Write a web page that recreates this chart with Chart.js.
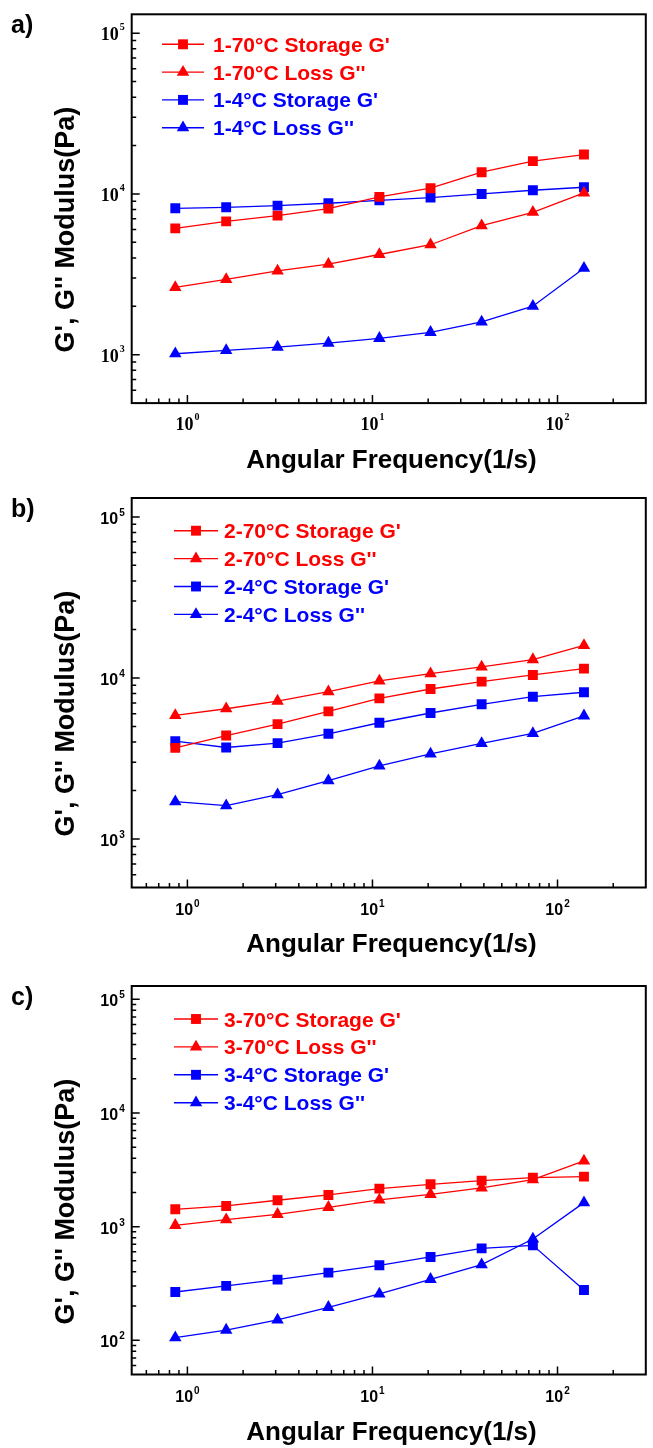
<!DOCTYPE html>
<html>
<head>
<meta charset="utf-8">
<script src="https://cdn.jsdelivr.net/npm/chart.js@4.4.1/dist/chart.umd.min.js"></script>
<style>
  html, body { margin: 0; padding: 0; background: #fff; }
  body { width: 653px; height: 1448px; position: relative; overflow: hidden; font-family: "Liberation Sans", Arial, sans-serif; }
  .cv { position: absolute; left: 0; }
  .letter { position: absolute; font-weight: bold; font-size: 25px; line-height: 25px; color: #000; white-space: nowrap; }
  .xt { position: absolute; left: 131px; width: 521px; text-align: center; font-weight: bold; font-size: 26px; line-height: 26px; color: #000; white-space: nowrap; }
  .yt { position: absolute; width: 400px; height: 27px; text-align: center; font-weight: bold; font-size: 27px; line-height: 27px; color: #000; white-space: nowrap; transform: rotate(-90deg); }
</style>
</head>
<body>
<canvas id="ca" class="cv" width="653" height="480" style="top:0px"></canvas>
<canvas id="cb" class="cv" width="653" height="490" style="top:480px"></canvas>
<canvas id="cc" class="cv" width="653" height="478" style="top:970px"></canvas>

<div class="letter" style="left:11px;top:12px">a)</div>
<div class="letter" style="left:11px;top:496px">b)</div>
<div class="letter" style="left:11px;top:984px">c)</div>

<div class="xt" style="top:446px">Angular Frequency(1/s)</div>
<div class="xt" style="top:930px">Angular Frequency(1/s)</div>
<div class="xt" style="top:1418px">Angular Frequency(1/s)</div>

<div class="yt" style="left:-135px;top:216px">G', G'' Modulus(Pa)</div>
<div class="yt" style="left:-135px;top:700px">G', G'' Modulus(Pa)</div>
<div class="yt" style="left:-135px;top:1188px">G', G'' Modulus(Pa)</div>

<script>
// ---------------- data ----------------
const freq = [0.86, 1.62, 3.07, 5.78, 10.9, 20.6, 38.9, 73.6, 139];

const namesA = ["1-70°C Storage G'", "1-70°C Loss G''", "1-4°C Storage G'", "1-4°C Loss G''"];
const a70Storage = [6110, 6750, 7330, 8100, 9580, 10850, 13650, 15990, 17580];
const a70Loss    = [2620, 2940, 3320, 3660, 4200, 4830, 6350, 7690, 10150];
const a4Storage  = [8140, 8260, 8460, 8750, 9130, 9490, 10000, 10540, 11000];
const a4Loss     = [1014, 1064, 1116, 1182, 1265, 1378, 1598, 2002, 3450];

const namesB = ["2-70°C Storage G'", "2-70°C Loss G''", "2-4°C Storage G'", "2-4°C Loss G''"];
const b70Storage = [3680, 4390, 5170, 6200, 7470, 8540, 9490, 10440, 11430];
const b70Loss    = [5850, 6440, 7190, 8220, 9580, 10640, 11710, 13010, 15910];
const b4Storage  = [4050, 3700, 3940, 4500, 5270, 6060, 6860, 7650, 8150];
const b4Loss     = [1705, 1610, 1884, 2304, 2844, 3379, 3919, 4521, 5822];

const namesC = ["3-70°C Storage G'", "3-70°C Loss G''", "3-4°C Storage G'", "3-4°C Loss G''"];
const c70Storage = [1421, 1520, 1706, 1900, 2159, 2357, 2540, 2700, 2754];
const c70Loss    = [1027, 1152, 1284, 1479, 1717, 1925, 2190, 2591, 3782];
const c4Storage  = [266, 301, 342, 394, 457, 541, 644, 685, 277];
const c4Loss     = [105.6, 123, 151, 195, 256, 344, 463, 779, 1626];

// tick labels: exponents of the decade labels
const xExponents  = [0, 1, 2];
const yExponentsAB = [3, 4, 5];
const yExponentsC  = [2, 3, 4, 5];

// ---------------- styling ----------------
const RED = '#ff0000', BLUE = '#0000ff';
const seriesStyle = [
  {color: RED,  pointStyle: 'rect',     radius: 7},
  {color: RED,  pointStyle: 'triangle', radius: 7.2},
  {color: BLUE, pointStyle: 'rect',     radius: 7},
  {color: BLUE, pointStyle: 'triangle', radius: 7.2}
];

const panels = [
  {canvas: 'ca', pad: {left: 131.7, right: 1, top: 14.3, bottom: 76.9}, yMin: 500, yMax: 131000,
   yExps: yExponentsAB, serif: true, series: [a70Storage, a70Loss, a4Storage, a4Loss], names: namesA,
   legend: {x0: 162, x1: 204, tx: 213, y0: 44.3, dy: 27.8}},
  {canvas: 'cb', pad: {left: 131.7, right: 1, top: 18, bottom: 82.5}, yMin: 500, yMax: 131000,
   yExps: yExponentsAB, serif: false, series: [b70Storage, b70Loss, b4Storage, b4Loss], names: namesB,
   legend: {x0: 174, x1: 218, tx: 224, y0: 50.7, dy: 27.9}},
  {canvas: 'cc', pad: {left: 131.7, right: 1, top: 16, bottom: 73.5}, yMin: 50, yMax: 131000,
   yExps: yExponentsC, serif: false, series: [c70Storage, c70Loss, c4Storage, c4Loss], names: namesC,
   legend: {x0: 174, x1: 218, tx: 224, y0: 49, dy: 27.9}}
];

function drawMarker(ctx, style, x, y) {
  ctx.fillStyle = style.color;
  ctx.strokeStyle = style.color;
  Chart.helpers.drawPoint(ctx, {pointStyle: style.pointStyle, radius: style.radius, rotation: 0, borderWidth: 0}, x, y);
}

function supLabel(ctx, x, y, exp, align, baseFont, supFont, raise) {
  ctx.font = baseFont; const w1 = ctx.measureText('10').width;
  ctx.font = supFont; const w2 = ctx.measureText(String(exp)).width;
  const total = w1 + 1 + w2;
  const x0 = align === 'center' ? x - total / 2 : x - total;
  ctx.textAlign = 'left'; ctx.textBaseline = 'alphabetic'; ctx.fillStyle = '#000';
  ctx.font = baseFont; ctx.fillText('10', x0, y);
  ctx.font = supFont; ctx.fillText(String(exp), x0 + w1 + 1, y - raise);
}

function logTicks(min, max) {
  const out = [];
  for (let n = Math.floor(Math.log10(min)); n <= Math.ceil(Math.log10(max)); n++) {
    for (let m = 1; m <= 9; m++) {
      const v = m * Math.pow(10, n);
      if (v >= min * 0.9999 && v <= max * 1.0001) out.push({v: v, major: m === 1});
    }
  }
  return out;
}

const decorPlugin = {
  id: 'decor',
  afterDatasetsDraw(chart, args, opts) {
    const p = opts.panel;
    const ctx = chart.ctx;
    const ca = chart.chartArea;
    const xs = chart.scales.x, ys = chart.scales.y;
    ctx.save();
    // frame
    ctx.strokeStyle = '#000';
    ctx.lineWidth = 2;
    ctx.strokeRect(ca.left, ca.top, ca.right - ca.left, ca.bottom - ca.top);
    // ticks
    ctx.lineWidth = 1.5;
    ctx.beginPath();
    logTicks(xs.min, xs.max).forEach(t => {
      const px = xs.getPixelForValue(t.v);
      if (px <= ca.left + 1 || px >= ca.right - 1) return;
      ctx.moveTo(px, ca.bottom);
      ctx.lineTo(px, ca.bottom - (t.major ? 8 : 4.5));
    });
    logTicks(ys.min, ys.max).forEach(t => {
      const py = ys.getPixelForValue(t.v);
      if (py <= ca.top + 1 || py >= ca.bottom - 1) return;
      ctx.moveTo(ca.left, py);
      ctx.lineTo(ca.left + (t.major ? 8 : 4.5), py);
    });
    ctx.stroke();
    // tick labels
    const baseFont = p.serif ? 'bold 18px "Liberation Serif"' : 'bold 16px "Liberation Sans"';
    const supFont = p.serif ? 'bold 10px "Liberation Serif"' : 'bold 10px "Liberation Sans"';
    const raise = p.serif ? 10 : 8;
    xExponents.forEach(e => {
      const px = xs.getPixelForValue(Math.pow(10, e));
      supLabel(ctx, px, ca.bottom + 27, e, 'center', baseFont, supFont, raise);
    });
    p.yExps.forEach(e => {
      const py = ys.getPixelForValue(Math.pow(10, e));
      supLabel(ctx, ca.left - 7, py + 7, e, 'right', baseFont, supFont, raise);
    });
    // legend
    const L = p.legend;
    p.names.forEach((name, i) => {
      const st = seriesStyle[i];
      const y = L.y0 + i * L.dy;
      ctx.strokeStyle = st.color;
      ctx.lineWidth = 1.4;
      ctx.beginPath(); ctx.moveTo(L.x0, y); ctx.lineTo(L.x1, y); ctx.stroke();
      drawMarker(ctx, st, (L.x0 + L.x1) / 2, y);
      ctx.fillStyle = st.color;
      ctx.font = 'bold 21px "Liberation Sans"';
      ctx.textAlign = 'left'; ctx.textBaseline = 'alphabetic';
      ctx.fillText(name, L.tx, y + 7.5);
    });
    ctx.restore();
  }
};

panels.forEach(p => {
  const datasets = p.series.map((vals, i) => ({
    label: p.names[i],
    data: freq.map((f, k) => ({x: f, y: vals[k]})),
    borderColor: seriesStyle[i].color,
    backgroundColor: seriesStyle[i].color,
    borderWidth: 1.3,
    pointStyle: seriesStyle[i].pointStyle,
    pointRadius: seriesStyle[i].radius,
    pointBorderWidth: 0,
    pointBackgroundColor: seriesStyle[i].color,
    pointBorderColor: seriesStyle[i].color,
    tension: 0,
    fill: false
  }));
  new Chart(document.getElementById(p.canvas), {
    type: 'line',
    data: {datasets: datasets},
    options: {
      responsive: false,
      animation: false,
      devicePixelRatio: 1,
      layout: {padding: p.pad},
      plugins: {legend: {display: false}, tooltip: {enabled: false}, decor: {panel: p}},
      scales: {
        x: {type: 'logarithmic', min: 0.5, max: 300, display: false},
        y: {type: 'logarithmic', min: p.yMin, max: p.yMax, display: false}
      }
    },
    plugins: [decorPlugin]
  });
});
</script>
</body>
</html>
